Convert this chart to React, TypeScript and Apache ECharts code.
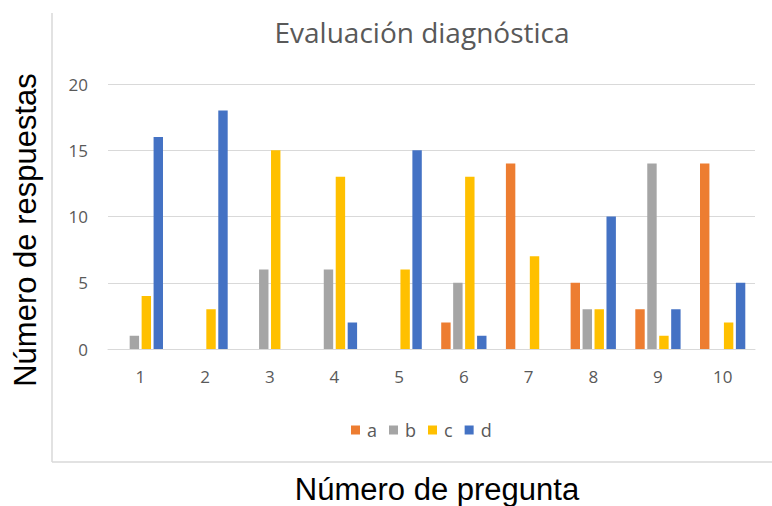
import React, { useEffect, useRef } from "react";
import * as echarts from "echarts";

const categories = ["1", "2", "3", "4", "5", "6", "7", "8", "9", "10"];
const seriesA = [0, 0, 0, 0, 0, 2, 14, 5, 3, 14];
const seriesB = [1, 0, 6, 6, 0, 5, 0, 3, 14, 0];
const seriesC = [4, 3, 15, 13, 6, 13, 7, 3, 1, 2];
const seriesD = [16, 18, 0, 2, 15, 1, 0, 10, 3, 5];
const seriesNames = ["a", "b", "c", "d"];
const colors = ["#ED7D31", "#A5A5A5", "#FFC000", "#4472C4"];

export default function App() {
  const ref = useRef<HTMLDivElement>(null);
  useEffect(() => {
    document.body.style.margin = "0";
    const chart = echarts.init(ref.current!, null, { renderer: "svg" });
    const data = [seriesA, seriesB, seriesC, seriesD];
    chart.setOption({
      animation: false,
      backgroundColor: "#ffffff",
      title: {
        text: "Evaluación diagnóstica",
        left: 417,
        top: 13,
        textAlign: "center",
        textStyle: {
          fontFamily: "Open Sans",
          fontSize: 28,
          fontWeight: "normal",
          color: "#595959",
        },
      },
      legend: {
        data: seriesNames,
        left: 346,
        top: 416,
        itemWidth: 9,
        itemHeight: 9,
        itemGap: 12,
        icon: "rect",
        textStyle: { fontFamily: "Open Sans", fontSize: 18, color: "#595959", padding: [0, 0, 0, 2] },
      },
      grid: { left: 108, right: 17, top: 84, bottom: 157, containLabel: false },
      xAxis: {
        type: "category",
        data: categories,
        axisLine: { show: true, lineStyle: { color: "#d9d9d9", width: 1 } },
        axisTick: { show: false },
        axisLabel: { fontFamily: "Open Sans", fontSize: 17, color: "#595959", margin: 19 },
      },
      yAxis: {
        type: "value",
        min: 0,
        max: 20,
        interval: 5,
        axisLine: { show: false },
        axisTick: { show: false },
        splitLine: { lineStyle: { color: "#d9d9d9", width: 1 } },
        axisLabel: { fontFamily: "Open Sans", fontSize: 17, color: "#595959", margin: 20 },
      },
      series: data.map((d, i) => ({
        name: seriesNames[i],
        type: "bar",
        data: d,
        itemStyle: { color: colors[i] },
        barGap: "27%",
        barCategoryGap: "30%",
      })),
      graphic: [
        {
          type: "line",
          shape: { x1: 52, y1: 13, x2: 52, y2: 462 },
          style: { stroke: "#d9d9d9", lineWidth: 1.5 },
        },
        {
          type: "line",
          shape: { x1: 52, y1: 462, x2: 772, y2: 462 },
          style: { stroke: "#d9d9d9", lineWidth: 1.5 },
        },
        {
          type: "text",
          x: 25,
          y: 230,
          rotation: Math.PI / 2,
          style: {
            text: "Número de respuestas",
            fontFamily: "Liberation Sans",
            fontSize: 31,
            fill: "#000000",
            textAlign: "center",
            textVerticalAlign: "middle",
          },
        },
        {
          type: "text",
          x: 437,
          y: 489,
          style: {
            text: "Número de pregunta",
            fontFamily: "Liberation Sans",
            fontSize: 31,
            fill: "#000000",
            textAlign: "center",
            textVerticalAlign: "middle",
          },
        },
      ],
    });
    return () => chart.dispose();
  }, []);
  return <div ref={ref} style={{ width: 772, height: 506 }} />;
}
